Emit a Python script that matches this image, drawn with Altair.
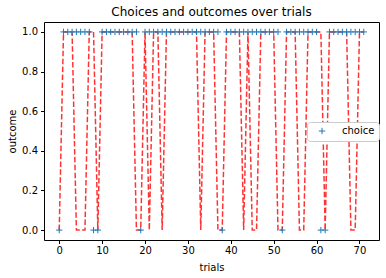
import altair as alt
import pandas as pd

trials = list(range(72))

choices = [
    0, 1, 1, 1, 1, 1, 1, 1, 0, 0,
    1, 1, 1, 1, 1, 1, 1, 1, 1, 0,
    1, 1, 1, 1, 1, 1, 1, 1, 1, 1,
    1, 1, 1, 1, 1, 1, 1, 1, 0, 1,
    1, 1, 1, 1, 1, 1, 1, 1, 1, 1,
    1, 1, 0, 1, 1, 1, 1, 1, 1, 1,
    1, 0, 0, 1, 1, 1, 1, 1, 1, 1,
    1, 1,
]

outcomes = [
    0, 1, 1, 1, 0, 0, 0, 1, 1, 0,
    1, 1, 1, 1, 1, 1, 1, 1, 0, 0,
    1, 0, 1, 1, 0, 1, 1, 1, 1, 1,
    1, 1, 1, 0, 1, 1, 1, 0, 0, 1,
    1, 1, 1, 0, 1, 0, 0, 1, 1, 1,
    1, 0, 0, 1, 1, 1, 0, 0, 1, 1,
    1, 1, 0, 1, 1, 1, 1, 1, 0, 0,
    1, 1,
]

x_ticks = [0, 10, 20, 30, 40, 50, 60, 70]
y_ticks = [0.0, 0.2, 0.4, 0.6, 0.8, 1.0]

df = pd.DataFrame({
    "trial": trials,
    "choice": choices,
    "outcome": outcomes,
    "series": ["choice"] * len(trials),
})

FONT = "DejaVu Sans"
PLUS = "M-1,0L1,0M0,-1L0,1"

x_enc = alt.X(
    "trial:Q",
    scale=alt.Scale(domain=[-3.55, 74.55], nice=False, zero=False),
    axis=alt.Axis(values=x_ticks, title="trials", labelPadding=2,
                  titleY=27, titleBaseline="middle"),
)
y_axis = alt.Axis(values=y_ticks, format=".1f", title="outcome", labelPadding=3,
                  titleX=-32, titleY=109, titleBaseline="middle", titleAlign="center")
y_scale = alt.Scale(domain=[-0.05, 1.05], nice=False, zero=False)

line = alt.Chart(df).mark_line(
    color="red", opacity=0.8, strokeDash=[5.5, 2.4], strokeWidth=1.5
).encode(
    x=x_enc,
    y=alt.Y("outcome:Q", scale=y_scale, axis=y_axis),
)

points = alt.Chart(df).mark_point(
    shape=PLUS, filled=False, size=40, strokeWidth=1, opacity=1
).encode(
    x=x_enc,
    y=alt.Y("choice:Q", scale=y_scale, axis=y_axis),
    color=alt.Color(
        "series:N",
        scale=alt.Scale(domain=["choice"], range=["#1f77b4"]),
        legend=alt.Legend(
            title=None, orient="none", legendX=263, legendY=100,
            symbolType=PLUS, symbolSize=40, symbolStrokeWidth=1,
            symbolOffset=6, labelOffset=15,
            labelFont=FONT, labelFontSize=10, labelColor="black",
            strokeColor="#cccccc", fillColor="white", padding=4,
            cornerRadius=3,
        ),
    ),
)

chart = alt.layer(line, points).properties(
    width=335,
    height=218,
    title=alt.TitleParams(
        "Choices and outcomes over trials", font=FONT, fontSize=12,
        fontWeight="normal", anchor="middle", offset=3, color="black",
    ),
    autosize=alt.AutoSizeParams(type="none"),
    padding={"left": 44, "top": 22, "right": 7, "bottom": 38},
).configure_view(
    stroke="black", strokeWidth=1
).configure_axis(
    grid=False, domain=False, tickColor="black", tickSize=3.5,
    labelFont=FONT, labelFontSize=10, labelColor="black",
    titleFont=FONT, titleFontSize=10, titleFontWeight="normal", titleColor="black",
)

chart.save("out.html", embed_options={"renderer": "svg", "actions": False})
